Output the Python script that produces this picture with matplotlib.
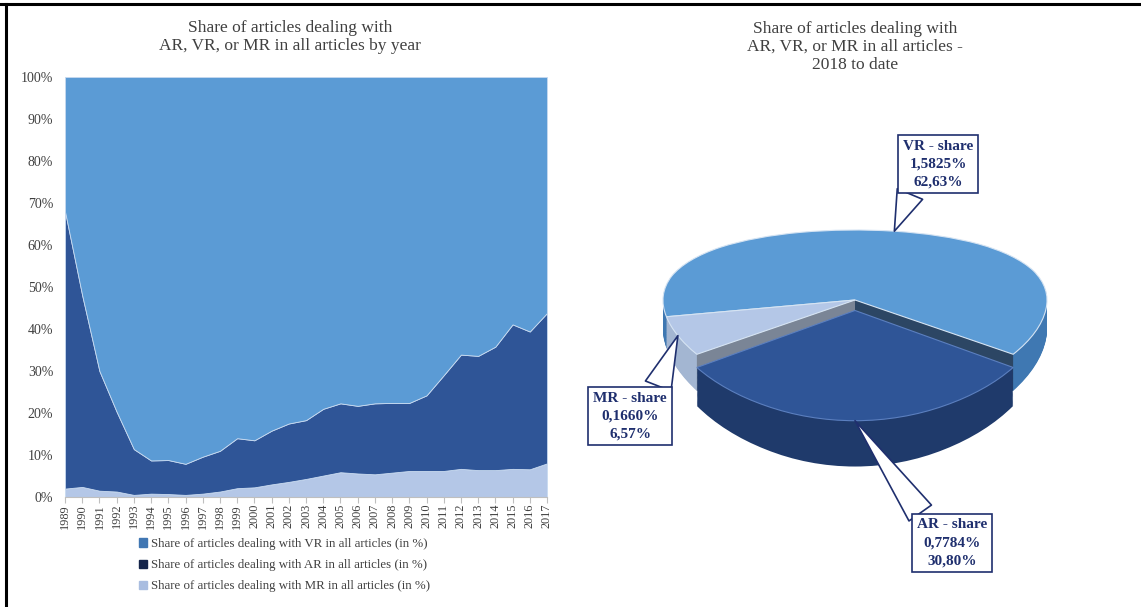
import numpy as np
import matplotlib.pyplot as plt
from matplotlib.patches import Patch, Polygon
from matplotlib.lines import Line2D

plt.rcParams['font.family'] = ['Liberation Serif', 'DejaVu Serif']

# ---- left chart data (share of all articles, in %) ----
years = list(range(1989, 2018))
mr_share = [2.0, 2.4, 1.5, 1.3, 0.5, 0.8, 0.7, 0.5, 0.8, 1.3, 2.1, 2.3, 3.0, 3.6, 4.3,
            5.1, 5.9, 5.6, 5.4, 5.8, 6.2, 6.2, 6.2, 6.7, 6.4, 6.4, 6.7, 6.6, 8.0]
ar_share = [66.0, 45.6, 28.5, 19.0, 10.9, 7.9, 8.1, 7.4, 8.8, 9.7, 11.9, 11.2, 12.8, 13.9, 14.0,
            15.9, 16.4, 16.1, 16.9, 16.6, 16.2, 18.0, 22.8, 27.2, 27.2, 29.4, 34.4, 32.8, 35.8]
vr_share = [32.0, 52.0, 70.0, 79.7, 88.6, 91.3, 91.2, 92.1, 90.4, 89.0, 86.0, 86.5, 84.2, 82.5, 81.7,
            79.0, 77.7, 78.3, 77.7, 77.6, 77.6, 75.8, 71.0, 66.1, 66.4, 64.2, 58.9, 60.6, 56.2]
legend_labels = ['Share of articles dealing with VR in all articles (in %)',
                 'Share of articles dealing with AR in all articles (in %)',
                 'Share of articles dealing with MR in all articles (in %)']

# ---- right chart data (2018 to date) ----
pie_names = ['AR', 'VR', 'MR']
pie_share_all = [0.7784, 1.5825, 0.1660]
pie_pct = [30.80, 62.63, 6.57]

vr_col, ar_col, mr_col = '#5b9bd5', '#2f5597', '#b4c7e7'
txt_col = '#404040'
navy = '#1f2f6e'

fig = plt.figure(figsize=(11.41, 6.07), dpi=100)
W, H = 1141, 607

# frame lines of the original figure
fig.add_artist(Line2D([0, 1], [1 - 4 / H, 1 - 4 / H], color='black', lw=2.2))
fig.add_artist(Line2D([6 / W, 6 / W], [0, 1 - 4 / H], color='black', lw=2.2))

# ---------------- stacked area chart ----------------
ax = fig.add_axes([65 / W, 1 - 497 / H, 482 / W, 420 / H])
ax.stackplot(years, mr_share, ar_share, vr_share,
             colors=[mr_col, ar_col, vr_col], edgecolor='#c8daf0', linewidth=0.6)
ax.set_xlim(years[0], years[-1])
ax.set_ylim(0, 100)
ax.set_yticks(range(0, 101, 10))
ax.set_yticklabels([f'{v}%' for v in range(0, 101, 10)], fontsize=10, color=txt_col)
ax.set_xticks(years)
ax.set_xticklabels([str(y) for y in years], rotation=90, fontsize=8.8, color=txt_col)
ax.tick_params(axis='y', length=0, pad=8.5)
ax.tick_params(axis='x', length=4, color='#bfbfbf', pad=1)
for s in ['top', 'right', 'left']:
    ax.spines[s].set_visible(False)
ax.spines['bottom'].set_color('#bfbfbf')

fig.text(290 / W, 1 - 37 / H,
         'Share of articles dealing with\nAR, VR, or MR in all articles by year',
         ha='center', va='center', fontsize=12.5, color=txt_col, linespacing=1.2)

handles = [Patch(color=c) for c in ['#4177b3', '#14244a', '#a9bde0']]
fig.legend(handles, legend_labels, loc='upper left',
           bbox_to_anchor=(139 / W, 1 - 538 / H), frameon=False,
           fontsize=9.3, handlelength=0.6, handleheight=0.6, handletextpad=0.3,
           labelspacing=0.71, borderpad=0, borderaxespad=0, labelcolor=txt_col)

# ---------------- 3D-looking exploded pie ----------------
cx, cy = 855, 300          # pie centre in pixels
sx = 192                   # pixels per data unit along x
k = np.log(1.5)            # perspective: front half drawn 1.5x taller than back half
sy = 70 / ((1 - np.exp(-k)) / k)


def persp(y):
    return (1 - np.exp(-k * np.asarray(y, float))) / k


def persp_inv(v):
    v = np.asarray(v, float)
    return -np.log(np.clip(1 - k * v, 1e-9, None)) / k


left, right, top, bottom = 590, 1130, 110, 600
ax2 = fig.add_axes([left / W, 1 - bottom / H, (right - left) / W, (bottom - top) / H])

depth = 0.32
n_layers = 45
explode = [0.12, 0, 0]
start = 270 - pie_pct[0] * 3.6 / 2
top_cols = [ar_col, vr_col, mr_col]
side_cols = ['#1f3a6b', '#3f78b2', '#a3b6d2']

for i in range(n_layers, 0, -1):
    dz = depth * i / n_layers
    wedges, _ = ax2.pie(pie_share_all, colors=side_cols, startangle=start, explode=explode,
                        center=(0, -dz), wedgeprops=dict(linewidth=0))
    wedges[0].set_zorder(3)
    for w in wedges[1:]:
        w.set_zorder(1)

# cut faces of the slices next to the pulled-out AR slice
edge_angles = np.radians([start, start + pie_pct[0] * 3.6])
for ang, col in zip(edge_angles, ['#7a8596', '#2c4664']):
    px, py = np.cos(ang), np.sin(ang)
    ax2.add_patch(Polygon([(0, 0), (px, py), (px, py - depth), (0, -depth)],
                          closed=True, fc=col, ec='none', zorder=1.5))

wedges, _ = ax2.pie(pie_share_all, colors=top_cols, startangle=start, explode=explode,
                    wedgeprops=dict(linewidth=0.8, edgecolor='#d6e4f3'))
wedges[0].set_zorder(4)
wedges[0].set_edgecolor('#5b7fbf')
for w in wedges[1:]:
    w.set_zorder(2)

ax2.set_aspect('auto')
ax2.set_yscale('function', functions=(persp, persp_inv))
ax2.set_xlim((left - cx) / sx, (right - cx) / sx)
ax2.set_ylim(persp_inv(-(bottom - cy) / sy), persp_inv((cy - top) / sy))
ax2.axis('off')

fig.text(855 / W, 1 - 47 / H,
         'Share of articles dealing with\nAR, VR, or MR in all articles -\n2018 to date',
         ha='center', va='center', fontsize=12.5, color=txt_col, linespacing=1.2)

# callout labels
fracs = np.array(pie_pct) / 100
cum = np.concatenate([[0], np.cumsum(fracs)])
mids = np.radians(start + (cum[:-1] + fracs / 2) * 360)
text_pos = {'AR': (952, 543), 'VR': (938, 164), 'MR': (630, 416)}
rel_pos = {'AR': (0.3, 0.6), 'VR': (0.25, 0.4), 'MR': (0.75, 0.6)}
for i, name in enumerate(pie_names):
    ex = explode[i]
    xy = ((1 + ex) * np.cos(mids[i]), (1 + ex) * np.sin(mids[i]))
    tx, ty = text_pos[name]
    label = f'{name} - share\n{pie_share_all[i]:.4f}%\n{pie_pct[i]:.2f}%'.replace('.', ',')
    ax2.annotate(label, xy=xy, xytext=(tx / W, 1 - ty / H), textcoords='figure fraction',
                 ha='center', va='center',
                 fontsize=11, fontweight='bold', color=navy, linespacing=1.5, zorder=10,
                 bbox=dict(boxstyle='square,pad=0.32', fc='white', ec=navy, lw=1.2),
                 arrowprops=dict(arrowstyle='wedge,tail_width=1.8,shrink_factor=0.5',
                                 fc='white', ec=navy, lw=1.2, shrinkA=0, shrinkB=0,
                                 relpos=rel_pos[name]))

fig.savefig('out.png', dpi=100)
